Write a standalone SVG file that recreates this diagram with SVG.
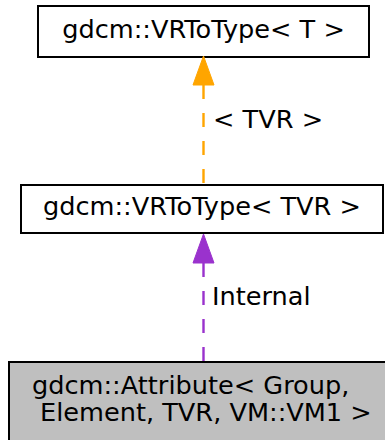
<svg xmlns="http://www.w3.org/2000/svg" width="385" height="440" viewBox="0 0 385 440">
<style>
text{font-family:"DejaVu Sans",sans-serif;font-size:25.6px;fill:#000}
.box{fill:#fff;stroke:#000;stroke-width:2}
.edge{fill:none;stroke-width:2.4;stroke-dasharray:14,14}
</style>
<rect width="385" height="440" fill="#fff"/>
<g id="node-vrtotype-t">
<rect class="box" x="38" y="6" width="331" height="51"/>
<text x="203.5" y="38" text-anchor="middle">gdcm::VRToType&lt; T &gt;</text>
</g>
<g id="node-vrtotype-tvr">
<rect class="box" x="21" y="185" width="362" height="48"/>
<text x="202" y="215" text-anchor="middle">gdcm::VRToType&lt; TVR &gt;</text>
</g>
<g id="node-attribute">
<rect class="box" x="9" y="362" width="385" height="85" style="fill:#bfbfbf"/>
<text x="32" y="394">gdcm::Attribute&lt; Group,</text>
<text x="40" y="421">Element, TVR, VM::VM1 &gt;</text>
</g>
<g id="connectors">
<path class="edge" d="M203.5,85 V185" stroke="#ffa500"/>
<polygon points="203.5,56 193,85 214,85" fill="#ffa500" stroke="#ffa500" stroke-width="1"/>
<text x="213" y="128">&lt; TVR &gt;</text>
<path class="edge" d="M203.5,263 V362" stroke="#9a32cd"/>
<polygon points="203.5,234 193,263 214,263" fill="#9a32cd" stroke="#9a32cd" stroke-width="1"/>
<text x="212" y="305">Internal</text>
</g>
</svg>
